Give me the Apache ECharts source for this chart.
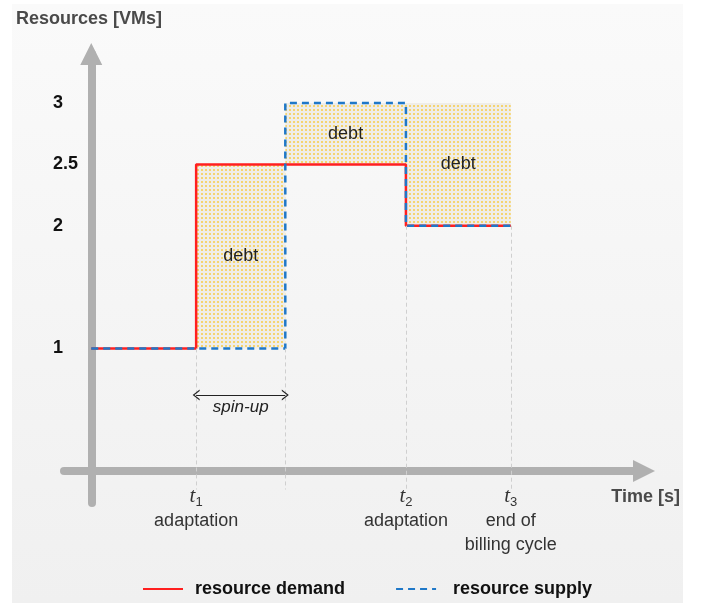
<!DOCTYPE html>
<html>
<head>
<meta charset="utf-8">
<script src="https://cdn.jsdelivr.net/npm/echarts@6/dist/echarts.min.js"></script>
<style>
  html, body { margin: 0; padding: 0; background: #fff; }
  #chart { width: 702px; height: 603px; }
</style>
</head>
<body>
<div id="chart"></div>
<script>
// step curves (time in arbitrary units, resources in VMs)
const demandX = [0, 1, 1, 3, 3, 4]
const demandY = [1, 1, 2.5, 2.5, 2, 2]
const supplyX = [0, 1.85, 1.85, 3, 3, 4]
const supplyY = [1, 1, 3, 3, 2, 2]

// debt boxes: [x0, y0, x1, y1]
const debtBoxes = [
  [1, 1, 1.85, 2.5],
  [1.85, 2.5, 3, 3],
  [3, 2, 4, 3],
]

const yTicks = [1, 2, 2.5, 3]
const xTicks = [1, 3, 4]
const xTickIndex = ['1', '2', '3']
const xTickNames = [['adaptation'], ['adaptation'], ['end of', 'billing cycle']]

// dashed guides dropped from the curves to below the time axis
const guideX = [1, 1.85, 3, 4]
const guideTop = [1, 1, 2, 2]
const guideBottom = -0.15

const spinUp = [1, 1.85]
const spinUpY = 0.62

const FONT = 'Liberation Sans, Arial, sans-serif'

// dotted yellow fill
const pat = document.createElement('canvas')
pat.width = 4
pat.height = 4
const pctx = pat.getContext('2d')
pctx.fillStyle = '#efede8'
pctx.fillRect(0, 0, 4, 4)
pctx.fillStyle = '#f5d470'
pctx.fillRect(1, 1, 2, 2)

const zip = (xs, ys) => xs.map((x, i) => [x, ys[i]])

const chart = echarts.init(document.getElementById('chart'))

const option = {
  animation: false,
  backgroundColor: '#fff',
  graphic: [{
    type: 'rect',
    z: -10,
    silent: true,
    shape: { x: 12, y: 4, width: 671, height: 599 },
    style: {
      fill: new echarts.graphic.LinearGradient(0, 0, 0, 1, [
        { offset: 0, color: '#fafafa' },
        { offset: 1, color: '#f0f0f0' },
      ]),
    },
  }],
  title: {
    text: 'Resources [VMs]',
    left: 11,
    top: 5,
    textStyle: { fontFamily: FONT, fontSize: 18, fontWeight: 'bold', color: '#4a4a4a' },
  },
  legend: {
    left: 137,
    top: 575,
    itemWidth: 40,
    itemHeight: 14,
    itemGap: 50,
    data: [
      'resource demand',
      { name: 'resource supply', textStyle: { padding: [0, 0, 0, 12] } },
    ],
    itemStyle: { opacity: 0 },
    textStyle: { fontFamily: FONT, fontSize: 18, fontWeight: 'bold', color: '#111', padding: [0, 0, 0, 7] },
  },
  grid: { left: 64, right: 58, top: 54, bottom: 100 },
  xAxis: {
    type: 'value',
    min: -0.26,
    max: 5.27,
    name: 'Time [s]',
    nameLocation: 'end',
    nameGap: 36,
    nameTextStyle: {
      fontFamily: FONT, fontSize: 18, fontWeight: 'bold', color: '#4a4a4a',
      align: 'right', verticalAlign: 'top', padding: [17, 0, 0, 0],
    },
    axisLine: {
      onZero: true,
      symbol: ['none', 'triangle'],
      symbolSize: [22, 22],
      lineStyle: { color: '#b0b0b0', width: 8 },
    },
    axisTick: { show: false },
    splitLine: { show: false },
    axisLabel: {
      customValues: xTicks,
      margin: -19,
      fontFamily: FONT,
      color: '#333',
      formatter: (v) => {
        const i = xTicks.indexOf(v)
        if (i < 0) return ''
        return '{t|t}{s|' + xTickIndex[i] + '}\n' + xTickNames[i].map(n => '{n|' + n + '}').join('\n')
      },
      rich: {
        t: { fontFamily: 'Liberation Serif, serif', fontStyle: 'italic', fontSize: 21, lineHeight: 25, color: '#333' },
        s: { fontFamily: FONT, fontSize: 13, lineHeight: 15, verticalAlign: 'bottom', color: '#333' },
        n: { fontFamily: FONT, fontSize: 18, lineHeight: 24, color: '#333' },
      },
    },
  },
  yAxis: {
    type: 'value',
    min: -0.26,
    max: 3.4,
    axisLine: {
      onZero: true,
      symbol: ['none', 'triangle'],
      symbolSize: [22, 22],
      lineStyle: { color: '#b0b0b0', width: 8 },
    },
    axisTick: { show: false },
    splitLine: { show: false },
    axisLabel: {
      customValues: yTicks,
      align: 'left',
      margin: 11,
      fontFamily: FONT,
      fontSize: 18,
      fontWeight: 'bold',
      color: '#111',
    },
  },
  series: [
    {
      type: 'custom',
      name: 'debt',
      z: 1,
      silent: true,
      data: debtBoxes,
      renderItem: (params, api) => {
        const p0 = api.coord([api.value(0), api.value(3)])
        const p1 = api.coord([api.value(2), api.value(1)])
        return {
          type: 'rect',
          shape: { x: p0[0], y: p0[1], width: p1[0] - p0[0], height: p1[1] - p0[1] },
          style: { fill: { image: pat, repeat: 'repeat' } },
          textContent: {
            style: { text: 'debt', fontFamily: FONT, fontSize: 18, fill: '#222' },
          },
          textConfig: { position: 'inside' },
        }
      },
    },
    {
      type: 'line',
      name: 'resource demand',
      z: 3,
      symbol: 'none',
      data: zip(demandX, demandY),
      lineStyle: { color: '#ff1f1f', width: 2.5 },
      itemStyle: { color: '#ff1f1f' },
      markLine: {
        silent: true,
        symbol: 'none',
        label: { show: false },
        lineStyle: { color: '#cfcfcf', width: 1, type: [4, 3] },
        data: guideX.map((x, i) => [{ coord: [x, guideTop[i]] }, { coord: [x, guideBottom] }]),
      },
    },
    {
      type: 'line',
      name: 'resource supply',
      z: 4,
      symbol: 'none',
      data: zip(supplyX, supplyY),
      lineStyle: { color: '#1f78c8', width: 2.5, type: [7, 5] },
      itemStyle: { color: '#1f78c8' },
      markLine: {
        silent: true,
        symbol: ['path://M0,10 L5,0 L10,10 L8.6,10 L5,2.6 L1.4,10 Z', 'path://M0,10 L5,0 L10,10 L8.6,10 L5,2.6 L1.4,10 Z'],
        symbolSize: [11, 7],
        lineStyle: { color: '#222', width: 1, type: 'solid' },
        label: {
          show: true,
          position: 'insideMiddleBottom',
          distance: 4,
          formatter: 'spin-up',
          fontFamily: FONT,
          fontStyle: 'italic',
          fontSize: 17,
          color: '#222',
        },
        data: [[{ coord: [spinUp[0], spinUpY] }, { coord: [spinUp[1], spinUpY] }]],
      },
    },
  ],
}

chart.setOption(option)
</script>
</body>
</html>
